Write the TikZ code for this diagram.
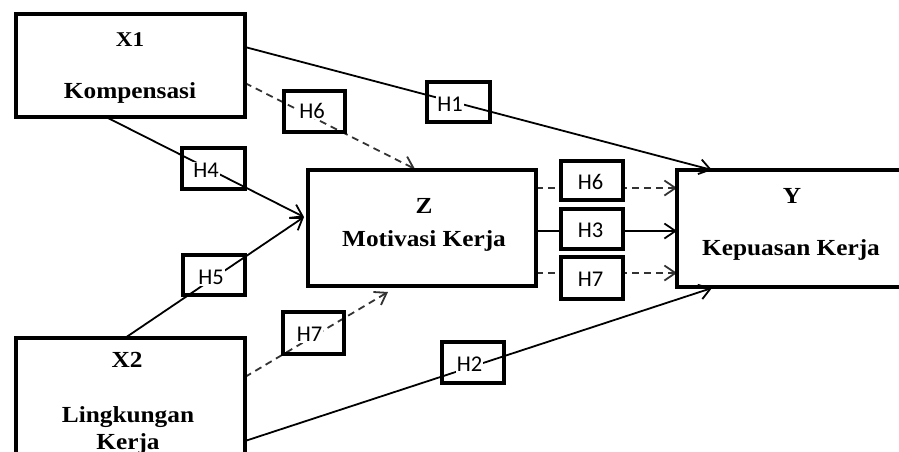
\documentclass[tikz,border=0pt]{standalone}
\usepackage{fontspec}
\setmainfont{Liberation Serif}[FakeStretch=1.1]
\newfontfamily\hfont{Carlito}
\usetikzlibrary{arrows.meta}
\begin{document}
\begin{tikzpicture}[x=1pt,y=-1pt,
  bigbox/.style={draw, line width=4pt, inner sep=0pt, outer sep=0pt},
  hbox/.style={draw, line width=3.8pt, inner sep=0pt, outer sep=0pt},
  hboxf/.style={hbox, fill=white},
  htext/.style={font=\hfont\fontsize{22.5}{24}\selectfont, fill=white, inner sep=0.8pt},
  ttl/.style={font=\bfseries\fontsize{23}{26}\selectfont, inner sep=0pt, anchor=base},
  conn/.style={line width=1.8pt},
  arr/.style={-{Straight Barb[length=11pt,width=15pt]}},
  dashconn/.style={conn, black!80, dash pattern=on 7pt off 5pt}
]
\useasboundingbox (0,0) rectangle (899,451);
\clip (0,0) rectangle (899,451);

% endpoints of connectors
\coordinate (x1a) at (245,47);   \coordinate (ya) at (712,170);
\coordinate (x1b) at (106,117);  \coordinate (za) at (304,217);
\coordinate (x1c) at (245,83);   \coordinate (zb) at (415,169);
\coordinate (x2a) at (125,338);
\coordinate (x2b) at (245,377);  \coordinate (zc) at (388,292);
\coordinate (x2c) at (245,441);  \coordinate (yb) at (712,288);
\coordinate (z1) at (536,188);   \coordinate (y1) at (677,188);
\coordinate (z2) at (536,231);   \coordinate (y2) at (677,231);
\coordinate (z3) at (536,273);   \coordinate (y3) at (677,273);

% connectors
\draw[conn,arr] (x1a) -- (ya);
\draw[conn,arr] (x1b) -- (za);
\draw[dashconn,arr] (x1c) -- (zb);
\draw[conn,arr] (x2a) -- (za);
\draw[dashconn,arr] (x2b) -- (zc);
\draw[conn,arr] (x2c) -- (yb);
\draw[dashconn,arr] (z1) -- (y1);
\draw[conn,arr] (z2) -- (y2);
\draw[dashconn,arr] (z3) -- (y3);

% main boxes
\node[bigbox, minimum width=229pt, minimum height=103pt] (x1) at (130.5,65.5) {};
\node[bigbox, minimum width=229pt, minimum height=142pt] (x2) at (130.5,409) {};
\node[bigbox, minimum width=228pt, minimum height=116pt] (z) at (422,228) {};
\node[bigbox, minimum width=233pt, minimum height=117pt] (y) at (793.5,228.5) {};

\node[ttl, font=\bfseries\fontsize{21}{24}\selectfont] (x1t) at (130,46) {X1};
\node[ttl] (x1s) at (130,98) {Kompensasi};
\node[ttl] (x2t) at (127,367) {X2};
\node[ttl] (x2s) at (128,422) {Lingkungan};
\node[ttl] (x2s2) at (128,449) {Kerja};
\node[ttl] (zt) at (424,213) {Z};
\node[ttl] (zs) at (424,246) {Motivasi Kerja};
\node[ttl] (yt) at (792,203) {Y};
\node[ttl] (ys) at (791,255) {Kepuasan Kerja};

% hypothesis boxes
\node[hbox, minimum width=63pt, minimum height=40pt] (h1) at (458.5,102) {};
\node[hbox, minimum width=61pt, minimum height=41pt] (h6a) at (314.5,111.5) {};
\node[hbox, minimum width=63pt, minimum height=41pt] (h4) at (213.5,168.5) {};
\node[hbox, minimum width=62pt, minimum height=40pt] (h5) at (214,275) {};
\node[hbox, minimum width=61pt, minimum height=42pt] (h7a) at (313.5,333) {};
\node[hbox, minimum width=62pt, minimum height=41pt] (h2) at (473,362.5) {};
\node[hboxf, minimum width=62pt, minimum height=39pt] (h6b) at (592,180.5) {};
\node[hboxf, minimum width=62pt, minimum height=40pt] (h3) at (592,229) {};
\node[hboxf, minimum width=62pt, minimum height=42pt] (h7b) at (592,278) {};

\node[htext] (t1) at (450,104.5) {H1};
\node[htext] (t6a) at (312,111) {H6};
\node[htext] (t4) at (206,170.5) {H4};
\node[htext] (t5) at (211,277.5) {H5};
\node[htext] (t7a) at (309.5,334.5) {H7};
\node[htext] (t2) at (469.5,364.5) {H2};
\node[htext] (t6b) at (590.5,181.5) {H6};
\node[htext] (t3) at (590.5,230.5) {H3};
\node[htext] (t7b) at (590.5,279.5) {H7};
\end{tikzpicture}
\end{document}
